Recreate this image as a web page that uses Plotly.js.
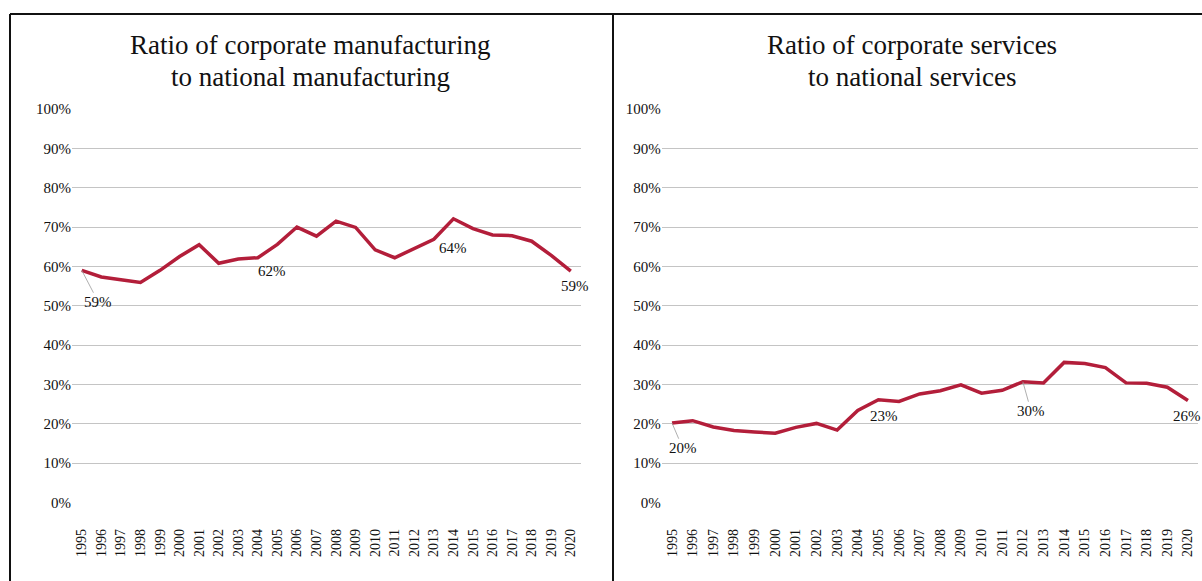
<!DOCTYPE html>
<html>
<head>
<meta charset="utf-8">
<script src="https://cdn.plot.ly/plotly-3.0.1.min.js"></script>
<style>html,body{margin:0;padding:0;background:#fff;}#chart{width:1202px;height:581px;}</style>
</head>
<body>
<div id="chart"></div>
<script>
const years = [1995,1996,1997,1998,1999,2000,2001,2002,2003,2004,2005,2006,2007,2008,2009,2010,2011,2012,2013,2014,2015,2016,2017,2018,2019,2020];
const yearLabels = years.map(String);
const manufacturing = [59.0,57.3,56.6,55.9,59.0,62.5,65.5,60.8,61.9,62.2,65.6,70.0,67.7,71.5,69.9,64.2,62.2,64.5,66.9,72.1,69.6,68.0,67.8,66.4,62.8,58.8];
const services = [20.2,20.8,19.2,18.3,17.9,17.6,19.1,20.1,18.4,23.4,26.1,25.7,27.6,28.4,29.9,27.8,28.5,30.7,30.4,35.6,35.3,34.3,30.4,30.3,29.3,25.9];
const yTicks = [0,10,20,30,40,50,60,70,80,90,100];
const yTickText = yTicks.map(v => v + '%');
const leftTitle = ['Ratio of corporate manufacturing','to national manufacturing'];
const rightTitle = ['Ratio of corporate services','to national services'];
// labels: [year, value, text, labelYear, labelValue, leader]
const leftLabels = [[1995,59.0,'59%',1995.85,50.9,true],[2004,62.2,'62%',2004.73,58.8,false],[2013,66.9,'64%',2014.0,64.7,false],[2020,58.8,'59%',2020.2,54.9,false]];
const rightLabels = [[1995,20.2,'20%',1995.52,13.8,true],[2005,26.1,'23%',2005.27,21.9,false],[2012,30.7,'30%',2012.4,23.2,true],[2020,25.9,'26%',2019.95,22.1,false]];

const RED = '#B31E3A';
const FONT = '"Liberation Serif", "DejaVu Serif", serif';

function xaxis(domain, anchor){
  return {domain: domain, anchor: anchor, range:[1994.5,2020.5], tickmode:'array', tickvals: years, ticktext: yearLabels,
    tickangle:-90, showgrid:false, zeroline:false, showline:false, ticks:'outside', ticklen:20, tickcolor:'rgba(0,0,0,0)',
    tickfont:{family:FONT,size:14,color:'#111'}, fixedrange:true};
}
function yaxis(anchor){
  return {domain:[0.1351,0.8124], anchor: anchor, range:[0,100], tickmode:'array', tickvals:yTicks, ticktext:yTickText,
    showgrid:true, gridcolor:'#C4C4C4', gridwidth:1, zeroline:false, showline:false, ticks:'',
    tickfont:{family:FONT,size:15,color:'#111'}, fixedrange:true};
}

const traces = [
  {x: years, y: manufacturing, type:'scatter', mode:'lines', line:{color:RED,width:3.5}, xaxis:'x', yaxis:'y', hoverinfo:'skip'},
  {x: years, y: services, type:'scatter', mode:'lines', line:{color:RED,width:3.5}, xaxis:'x2', yaxis:'y2', hoverinfo:'skip'}
];

const annotations = [];
function addLabels(list, xr, yr){
  list.forEach(l => {
    if (l[5]) {
      annotations.push({x:l[0], y:l[1], xref:xr, yref:yr, text:l[2], showarrow:true, arrowhead:0, arrowwidth:0.8, arrowcolor:'#9A9A9A',
        ax:l[3], ay:l[4], axref:xr, ayref:yr, standoff:0, startstandoff:0, font:{family:FONT,size:15,color:'#111'}});
    } else {
      annotations.push({x:l[3], y:l[4], xref:xr, yref:yr, text:l[2], showarrow:false, font:{family:FONT,size:15,color:'#111'}});
    }
  });
}
addLabels(leftLabels,'x','y');
addLabels(rightLabels,'x2','y2');
function addTitle(lines, xc){
  annotations.push({x:xc/1202, y:1-45/581, xref:'paper', yref:'paper', text:lines[0], showarrow:false, xanchor:'center', yanchor:'middle', font:{family:FONT,size:27,color:'#111'}});
  annotations.push({x:xc/1202, y:1-77/581, xref:'paper', yref:'paper', text:lines[1], showarrow:false, xanchor:'center', yanchor:'middle', font:{family:FONT,size:27,color:'#111'}});
}
addTitle(leftTitle, 310);
addTitle(rightTitle, 912);

const topY = 1-14/581;
const shapes = [
  {type:'line', xref:'paper', yref:'paper', x0:10/1202, x1:1, y0:topY, y1:topY, line:{color:'#111',width:2}},
  {type:'line', xref:'paper', yref:'paper', x0:10/1202, x1:10/1202, y0:0, y1:topY, line:{color:'#111',width:2}},
  {type:'line', xref:'paper', yref:'paper', x0:613/1202, x1:613/1202, y0:0, y1:topY, line:{color:'#111',width:2}}
];

const layout = {
  width:1202, height:581, margin:{l:0,r:0,t:0,b:0}, paper_bgcolor:'#fff', plot_bgcolor:'#fff', showlegend:false,
  xaxis: xaxis([0.0599,0.4830],'y'), yaxis: yaxis('x'),
  xaxis2: xaxis([0.5505,0.9969],'y2'), yaxis2: yaxis('x2'),
  annotations: annotations, shapes: shapes
};
Plotly.newPlot('chart', traces, layout, {staticPlot:true, displayModeBar:false});
</script>
</body>
</html>
